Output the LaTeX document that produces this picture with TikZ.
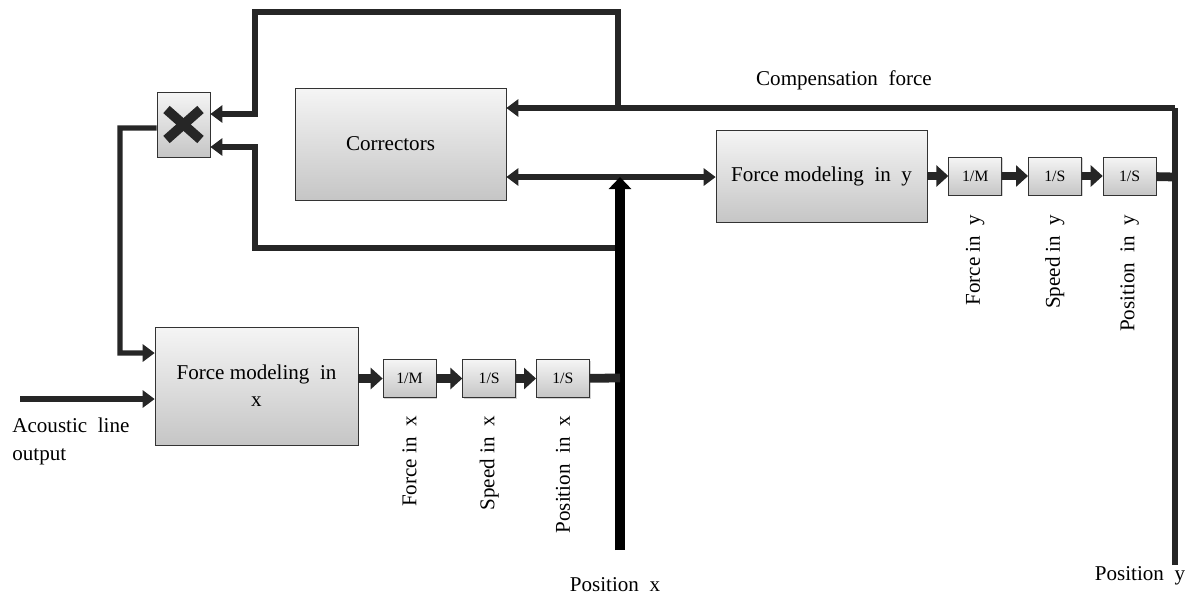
\documentclass[tikz,border=0pt]{standalone}
\usepackage{fontspec}
\setmainfont{Liberation Serif}
\usetikzlibrary{arrows.meta}
\usetikzlibrary{positioning,shapes}
\usetikzlibrary{calc,shadows}

\begin{document}
\begin{tikzpicture}[x=0.02cm, y=-0.02cm, font=\fontsize{12}{15.5}\selectfont,
	block/.style = {draw=black!80, thin, top color=gray!8, bottom color=gray!45, drop shadow={opacity=0.35, shadow xshift=0.7pt, shadow yshift=-0.7pt}},
	gain/.style = {block, minimum width=1.06cm, minimum height=0.76cm, inner sep=0pt, font=\fontsize{9}{10}\selectfont},
	wire/.style = {draw=black!85, line width=2.9pt},
	feed/.style = {wire, -{Triangle[length=2.4mm, width=3.4mm]}},
	chunk/.style = {draw=black!85, line width=5pt, -{Triangle[length=2.4mm, width=4.2mm]}},
	vlabel/.style = {rotate=90, anchor=east, inner sep=0pt}]
		\useasboundingbox (0,0) rectangle (1190,596);
		% blocks
		\node[block, minimum width=1.06cm, minimum height=1.3cm] (mult) at (183.5,124.5) {};
		\draw[line width=5.5pt, black!85] ($(mult)+(-17,-15)$) -- ($(mult)+(17,15)$);
		\draw[line width=5.5pt, black!85] ($(mult)+(-17,15)$) -- ($(mult)+(17,-15)$);
		\node[block, minimum width=4.22cm, minimum height=2.24cm] (corr) at (400.5,144) {\raisebox{-0.08cm}{Correctors}\hspace*{0.4cm}};
		\node[block, minimum width=4.22cm, minimum height=1.84cm] (fmy) at (821.5,176) {Force modeling\ \ in\ \ y};
		\node[block, minimum width=4.06cm, minimum height=2.36cm, align=center] (fmx) at (256.5,386) {\rule{0pt}{0.12cm}Force modeling\ \ in\\x};
		\node[gain] (mx1) at (409.5,378.5) {1/M};
		\node[gain, right=0.52cm of mx1] (mx2) {1/S};
		\node[gain, right=0.4cm of mx2] (mx3) {1/S};
		\node[gain, right=0.42cm of fmy] (my1) {1/M};
		\node[gain, right=0.52cm of my1] (my2) {1/S};
		\node[gain, right=0.42cm of my2] (my3) {1/S};
		% bends
		\coordinate (tr) at (618,12);
		\coordinate (tl) at (255,12);
		\coordinate (cr) at (618,108);
		\coordinate (ry) at (1175,108);
		\coordinate (py) at (1175,565);
		\coordinate (ey) at (1175,177);
		\coordinate (lr) at (620,248);
		\coordinate (ll) at (255,248);
		\coordinate (mb) at (120,353);
		\coordinate (ac) at (20,399);
		\coordinate (px) at (620,550);
		\coordinate (jx) at (620,177);
		\coordinate (ex) at (620,378);
		% connectors
		\draw[wire] (py) -- (ry);
		\draw[feed] (ry) -- (corr.east |- ry);
		\draw[feed] (cr) -- (tr) -- (tl) |- ([yshift=0.21cm]mult.east);
		\draw[feed] (lr) -- (ll) |- ([yshift=-0.45cm]mult.east);
		\draw[feed] ([yshift=-0.07cm]mult.west) -| (mb) -- ([yshift=0.66cm]fmx.west);
		\draw[feed] (ac) -- (fmx.west |- ac);
		\draw[wire, {Triangle[length=2.4mm, width=3.4mm]}-{Triangle[length=2.4mm, width=3.4mm]}] (corr.east |- jx) -- (fmy.west |- jx);
		\draw[black, line width=5.5pt, -{Triangle[length=2.4mm, width=4.4mm]}] (px) -- (jx);
		\draw[chunk] (fmx.east |- mx1) -- (mx1);
		\draw[chunk] (mx1) -- (mx2);
		\draw[chunk] (mx2) -- (mx3);
		\draw[wire, line width=5pt] (mx3) -- (ex);
		\draw[chunk] (fmy.east |- my1) -- (my1);
		\draw[chunk] (my1) -- (my2);
		\draw[chunk] (my2) -- (my3);
		\draw[wire, line width=5pt] (my3) -- (ey);
		% labels
		\node (comp) at (844,80) {Compensation\ \ force};
		\node[align=left, anchor=north west, inner sep=0pt] (acl) at (12,418) {Acoustic\ \ line\\output};
		\node (posx) at (615,585) {Position\ \ x};
		\node (posy) at (1140,576) {Position\ \ y};
		\node[vlabel] (fx) at ([yshift=-0.36cm]mx1.south) {Force in\ \ x};
		\node[vlabel] (sx) at ([yshift=-0.36cm]mx2.south) {Speed in\ \ x};
		\node[vlabel] (qx) at ([yshift=-0.36cm]mx3.south) {Position\ \ in\ \ x};
		\node[vlabel] (fy) at ([yshift=-0.38cm]my1.south) {Force in\ \ y};
		\node[vlabel] (sy) at ([yshift=-0.38cm]my2.south) {Speed in\ \ y};
		\node[vlabel] (qy) at ([yshift=-0.38cm]my3.south) {Position\ \ in\ \ y};
	\end{tikzpicture}
\end{document}
